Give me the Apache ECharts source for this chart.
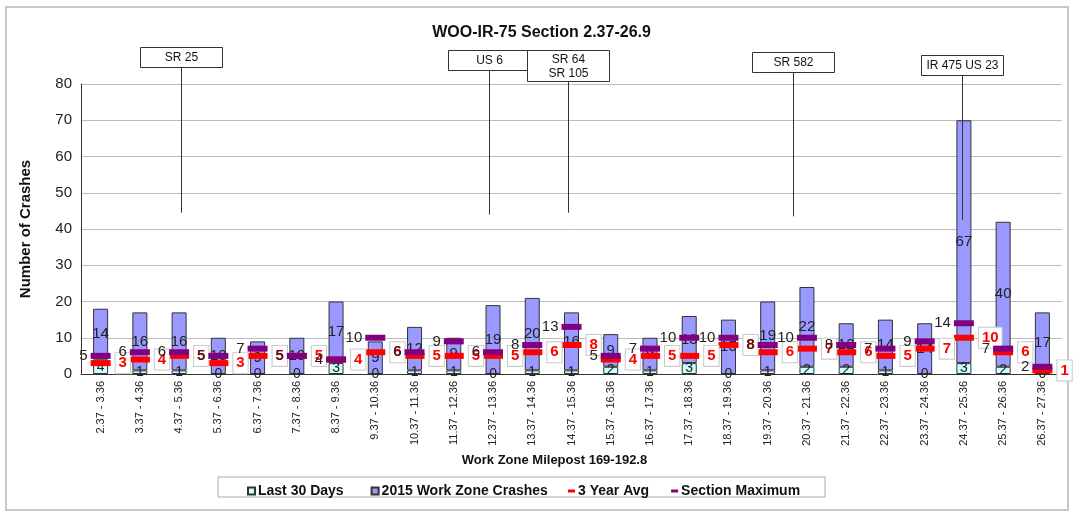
<!DOCTYPE html>
<html lang="en">
<head>
    <meta charset="UTF-8">
    <title>WOO-IR-75 Section 2.37-26.9</title>
    <script src="https://cdn.jsdelivr.net/npm/echarts@6/dist/echarts.min.js"></script>
    <style>
        html, body { margin: 0; padding: 0; background: #fff; }
        #main { width: 1083px; height: 520px; }
    </style>
</head>
<body>
<div id="main"></div>
<script>
    // milepost ranges
    var categories = ['2.37 - 3.36', '3.37 - 4.36', '4.37 - 5.36', '5.37 - 6.36', '6.37 - 7.36',
        '7.37 - 8.36', '8.37 - 9.36', '9.37 - 10.36', '10.37 - 11.36', '11.37 - 12.36',
        '12.37 - 13.36', '13.37 - 14.36', '14.37 - 15.36', '15.37 - 16.36', '16.37 - 17.36',
        '17.37 - 18.36', '18.37 - 19.36', '19.37 - 20.36', '20.37 - 21.36', '21.37 - 22.36',
        '22.37 - 23.36', '23.37 - 24.36', '24.37 - 25.36', '25.37 - 26.36', '26.37 - 27.36'];
    var last30 = [4, 1, 1, 0, 0, 0, 3, 0, 1, 1, 0, 1, 1, 2, 1, 3, 0, 1, 2, 2, 1, 0, 3, 2, 0];
    var crashes2015 = [14, 16, 16, 10, 9, 10, 17, 9, 12, 9, 19, 20, 16, 9, 9, 13, 15, 19, 22, 12, 14, 14, 67, 40, 17];
    var avg3yr = [3, 4, 5, 3, 5, 5, 4, 6, 5, 5, 5, 6, 8, 4, 5, 5, 8, 6, 7, 6, 5, 7, 10, 6, 1];
    var sectionMax = [5, 6, 6, 5, 7, 5, 4, 10, 6, 9, 6, 8, 13, 5, 7, 10, 10, 8, 10, 8, 7, 9, 14, 7, 2];
    var yTicks = [0, 10, 20, 30, 40, 50, 60, 70, 80];

    // interchange callouts (milepost within section, bottom of leader line in crashes)
    var annoText = ['SR 25', 'US 6', 'SR 64\nSR 105', 'SR 582', 'IR 475 US 23'];
    var annoMile = [4.93, 12.76, 14.79, 20.52, 24.82];
    var annoEnd = [44.5, 44, 44.5, 43.5, 42.5];

    var font = '"Liberation Sans", Arial, sans-serif';
    var chart = echarts.init(document.getElementById('main'));

    chart.setOption({
        animation: false,
        title: {
            text: 'WOO-IR-75 Section 2.37-26.9',
            left: 'center',
            top: 20,
            textStyle: {fontFamily: font, fontSize: 16, fontWeight: 'bold', color: '#111'}
        },
        legend: [{
            left: 242,
            top: 479,
            itemWidth: 7,
            itemHeight: 7,
            itemGap: 27,
            icon: 'rect',
            data: ['Last 30 Days', '2015 Work Zone Crashes'],
            textStyle: {fontFamily: font, fontSize: 14, fontWeight: 'bold', color: '#111', padding: [0, 0, 0, -2]}
        }, {
            left: 563,
            top: 479,
            itemWidth: 7,
            itemHeight: 3,
            itemGap: 22,
            icon: 'rect',
            data: ['3 Year Avg', 'Section Maximum'],
            textStyle: {fontFamily: font, fontSize: 14, fontWeight: 'bold', color: '#111', padding: [0, 0, 0, -2]}
        }],
        grid: {left: 81, right: 21, top: 84, bottom: 146},
        xAxis: {
            type: 'category',
            data: categories,
            name: 'Work Zone Milepost 169-192.8',
            nameLocation: 'middle',
            nameGap: 77,
            nameTextStyle: {fontFamily: font, fontSize: 13, fontWeight: 'bold', color: '#111', padding: [0, 34, 0, 0]},
            axisLine: {lineStyle: {color: '#333', width: 1}},
            axisTick: {show: false},
            axisLabel: {rotate: 90, interval: 0, fontFamily: font, fontSize: 11, color: '#222', margin: 7}
        },
        yAxis: {
            type: 'value',
            min: yTicks[0],
            max: yTicks[yTicks.length - 1],
            interval: 10,
            name: 'Number of Crashes',
            nameLocation: 'middle',
            nameGap: 48,
            nameTextStyle: {fontFamily: font, fontSize: 15, fontWeight: 'bold', color: '#111'},
            axisLine: {show: true, lineStyle: {color: '#333'}},
            axisTick: {show: false},
            axisLabel: {fontFamily: font, fontSize: 15, color: '#222', margin: 9},
            splitLine: {lineStyle: {color: '#bcbcbc'}}
        },
        series: [{
            name: 'Last 30 Days',
            type: 'bar',
            stack: 'wz',
            barWidth: 15,
            data: last30,
            itemStyle: {color: '#ccffff', borderColor: '#333', borderWidth: 1},
            label: {show: true, position: 'inside', fontFamily: font, fontSize: 14, color: '#222'}
        }, {
            name: '2015 Work Zone Crashes',
            type: 'bar',
            stack: 'wz',
            barWidth: 15,
            data: crashes2015,
            itemStyle: {color: '#9999ff', borderColor: '#333', borderWidth: 1},
            label: {show: true, position: 'inside', fontFamily: font, fontSize: 15, color: '#222'}
        }, {
            name: '3 Year Avg',
            type: 'line',
            data: avg3yr,
            symbol: 'rect',
            symbolSize: [20, 6],
            lineStyle: {width: 0, opacity: 0},
            itemStyle: {color: '#ff0000'},
            z: 3,
            label: {
                show: true, position: 'right', distance: 5,
                fontFamily: font, fontSize: 15, fontWeight: 'bold', color: '#ff0000',
                backgroundColor: '#fff', borderColor: '#c8c8c8', borderWidth: 1, padding: [3, 3, 2, 3]
            }
        }, {
            name: 'Section Maximum',
            type: 'line',
            data: sectionMax,
            symbol: 'rect',
            symbolSize: [20, 6],
            lineStyle: {width: 0, opacity: 0},
            itemStyle: {color: '#800080'},
            z: 4,
            label: {show: true, position: 'left', distance: 3, fontFamily: font, fontSize: 15, color: '#222'}
        }]
    });

    // callout boxes and leader lines, placed through the axes
    var p0 = chart.convertToPixel({xAxisIndex: 0}, 0);
    var step = chart.convertToPixel({xAxisIndex: 0}, 1) - p0;
    var boxTop = [47, 50, 50, 52, 55];
    var g = [{
        type: 'rect',
        shape: {x: 6, y: 7, width: 1062, height: 503},
        style: {fill: null, stroke: '#c8c8c8', lineWidth: 2},
        silent: true
    }, {
        type: 'rect',
        shape: {x: 218, y: 477, width: 607, height: 20},
        style: {fill: null, stroke: '#aaa', lineWidth: 1},
        silent: true
    }];
    annoText.forEach(function (t, i) {
        var x = Math.round(p0 + (annoMile[i] - 2.87) * step) + 0.5;
        var lines = t.split('\n').length;
        var bh = lines > 1 ? 31 : 20;
        var bottom = chart.convertToPixel({yAxisIndex: 0}, annoEnd[i]);
        g.push({
            type: 'line',
            shape: {x1: x, y1: boxTop[i] + bh, x2: x, y2: bottom},
            style: {stroke: '#333', lineWidth: 1},
            z: 50
        });
        g.push({
            type: 'rect',
            shape: {x: x - 41, y: boxTop[i] + 0.5, width: 82, height: bh},
            style: {fill: '#fff', stroke: '#333', lineWidth: 1},
            z: 50
        });
        g.push({
            type: 'text',
            x: x,
            y: boxTop[i] + bh / 2 + 1,
            style: {
                text: t, fontFamily: font, fontSize: 12, fill: '#111',
                align: 'center', verticalAlign: 'middle', lineHeight: 14
            },
            z: 51
        });
    });
    chart.setOption({graphic: g});
</script>
</body>
</html>
